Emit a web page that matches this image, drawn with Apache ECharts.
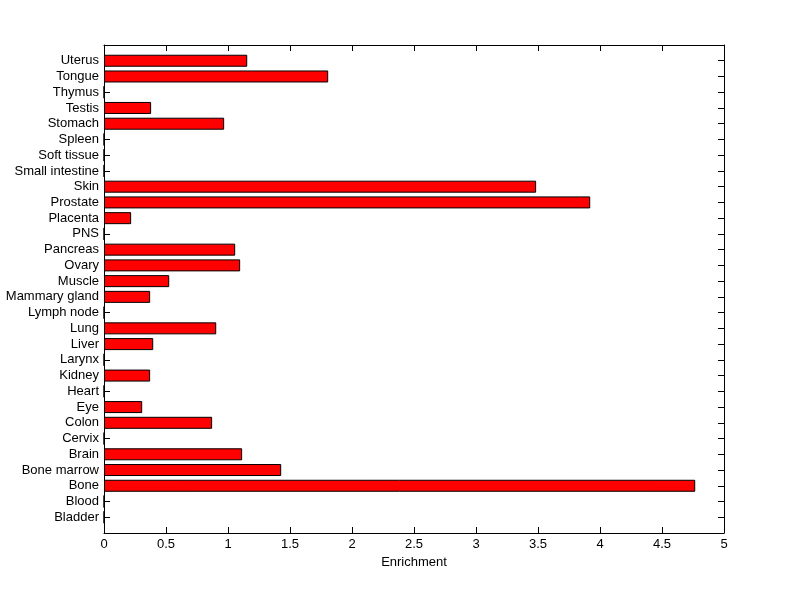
<!DOCTYPE html>
<html>
<head>
<meta charset="utf-8">
<script src="https://cdn.jsdelivr.net/npm/echarts@6/dist/echarts.min.js"></script>
<style>html,body{margin:0;padding:0;background:#fff}#c{width:800px;height:599px}</style>
</head>
<body>
<div id="c"></div>
<script>
// Categories bottom to top
const tissues = ['Bladder','Blood','Bone','Bone marrow','Brain','Cervix','Colon','Eye','Heart','Kidney','Larynx','Liver','Lung','Lymph node','Mammary gland','Muscle','Ovary','Pancreas','PNS','Placenta','Prostate','Skin','Small intestine','Soft tissue','Spleen','Stomach','Testis','Thymus','Tongue','Uterus'];
const enrichment = [0,0,4.768,1.429,1.114,0,0.872,0.308,0,0.372,0,0.397,0.905,0,0.372,0.526,1.098,1.058,0,0.219,3.921,3.485,0,0,0,0.969,0.38,0,1.808,1.155];
const xTicks = [0,0.5,1,1.5,2,2.5,3,3.5,4,4.5,5];
const xName = 'Enrichment';

// pad one empty slot at each end (axis runs from 0 to N+1)
const cats = [''].concat(tissues, ['']);
const vals = ['-'].concat(enrichment, ['-']);

const font = 'Liberation Sans, Arial, sans-serif';
const chart = echarts.init(document.getElementById('c'), null, {renderer:'canvas'});
const axisLine = {show:true, onZero:false, lineStyle:{color:'#000', width:1}};
const tick = {show:true, inside:true, length:6, lineStyle:{color:'#000', width:1}};
chart.setOption({
  animation:false,
  backgroundColor:'#fff',
  grid:{left:104, right:76, top:45, bottom:66, containLabel:false},
  xAxis:[{
    type:'value', position:'bottom', min:xTicks[0], max:xTicks[xTicks.length-1], interval:0.5,
    axisLine:axisLine, axisTick:tick, splitLine:{show:false},
    axisLabel:{color:'#000', fontFamily:font, fontSize:13, margin:5},
    name:xName, nameLocation:'middle', nameGap:21,
    nameTextStyle:{color:'#000', fontFamily:font, fontSize:13}
  },{
    type:'value', position:'top', min:xTicks[0], max:xTicks[xTicks.length-1], interval:0.5,
    axisLine:axisLine, axisTick:tick, splitLine:{show:false}, axisLabel:{show:false}
  }],
  yAxis:[{
    type:'category', position:'left', data:cats, boundaryGap:false,
    axisLine:axisLine, axisTick:Object.assign({interval:0}, tick),
    axisLabel:{interval:0, color:'#000', fontFamily:font, fontSize:13, margin:5},
    splitLine:{show:false}
  },{
    type:'category', position:'right', data:cats, boundaryGap:false,
    axisLine:axisLine, axisTick:Object.assign({interval:0}, tick),
    axisLabel:{show:false}, splitLine:{show:false}
  }],
  series:[{
    type:'bar', xAxisIndex:0, yAxisIndex:0, data:vals, barWidth:12,
    itemStyle:{color:'#ff0000', borderColor:'#000', borderWidth:1}
  }]
});
</script>
</body>
</html>
